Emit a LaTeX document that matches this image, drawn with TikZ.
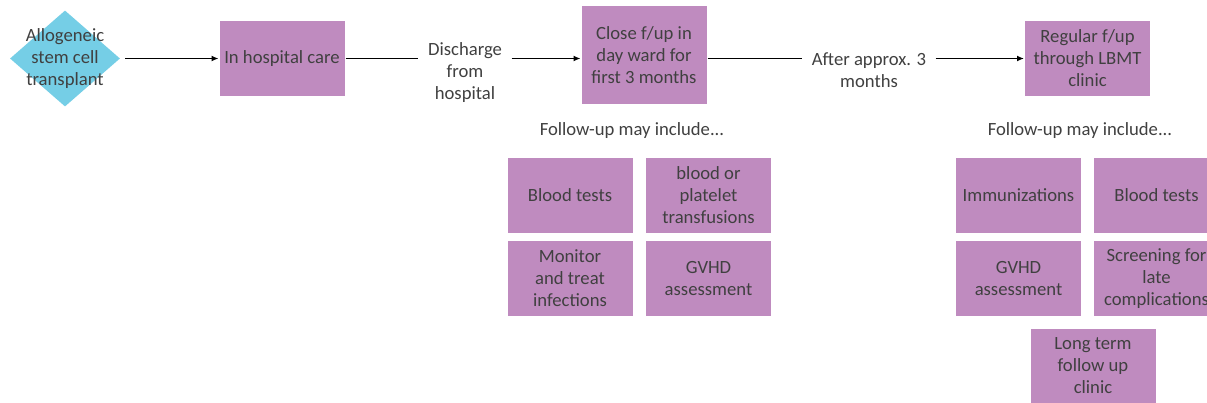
\documentclass[tikz,border=0pt]{standalone}
\usepackage{fontspec}
\setmainfont{Carlito}
\usetikzlibrary{arrows.meta,shapes.geometric}
\definecolor{boxpurple}{RGB}{191,139,191}
\definecolor{stemblue}{RGB}{117,206,230}
\definecolor{txtgray}{RGB}{64,64,64}

\begin{document}
\begin{tikzpicture}[x=0.75pt,y=-0.75pt,
		txt/.style={text=txtgray,font=\fontsize{14}{16.5}\selectfont,align=center},
		box/.style={txt,fill=boxpurple,draw=white,line width=0.75pt,minimum width=94.5pt,minimum height=57pt,inner sep=0},
		stemshape/.style={diamond,fill=stemblue,minimum width=82.5pt,minimum height=72pt,inner sep=0},
		lbl/.style={txt,inner xsep=7pt,inner ysep=0},
		ln/.style={line width=1.2pt},
		arr/.style={ln,-{Latex[length=5.25pt,width=4.5pt]}}]
		%%%%% START %%%%%
		
		\clip (0,0) rectangle (1207,403);
		\fill[white] (0,0) rectangle (1207,403);
		
		\node[stemshape] (stem) at (65,58.5) {};
		\node[txt] (stemtxt) at (stem) {Allogeneic\\stem cell\\transplant};
		
		\node[box] (hosp) at (282,58.5) {In hospital care};
		\node[lbl] (dis) at (465,73) {Discharge\\from\\hospital};
		\node[box,minimum height=74.25pt] (close) at (644,55.5) {Close f/up in\\day ward for\\first 3 months};
		\node[lbl] (after) at (869,70) {After approx. 3\\months};
		\node[box] (reg) at (1087.5,58.5) {Regular f/up\\through LBMT\\clinic};
		
		\draw[arr] ([xshift=3.75pt]stem.east) -- (hosp.west);
		\draw[ln] (hosp.east) -- (hosp.east -| dis.west);
		\draw[arr] (hosp.east -| dis.east) -- (hosp.east -| close.west);
		\draw[ln] (hosp.east -| close.east) -- (hosp.east -| after.west);
		\draw[arr] (hosp.east -| after.east) -- (hosp.east -| reg.west);
		
		% day ward
		\node[txt] (incl1) at (632,131) {Follow-up may include...};
		\node[box] (blood1) at (570,195.5) {Blood tests};
		\node[box] (transf) at (708.5,195.5) {blood or\\platelet\\transfusions};
		\node[box] (infect) at (570,278.5) {Monitor\\and treat\\infections};
		\node[box] (gvhd1) at (708.5,278.5) {GVHD\\assessment};
		
		% LBMT clinic
		\node[txt] (incl2) at (1080,131) {Follow-up may include...};
		\node[box] (immun) at (1018.5,195.5) {Immunizations};
		\node[box] (blood2) at (1156.5,195.5) {Blood tests};
		\node[box] (gvhd2) at (1018.5,278.5) {GVHD\\assessment};
		\node[box] (screen) at (1156.5,278.5) {Screening for\\late\\complications};
		\node[box] (ltfu) at (1093,366) {Long term\\follow up\\clinic};
		
		%%%%% END %%%%%
	\end{tikzpicture}
\end{document}
